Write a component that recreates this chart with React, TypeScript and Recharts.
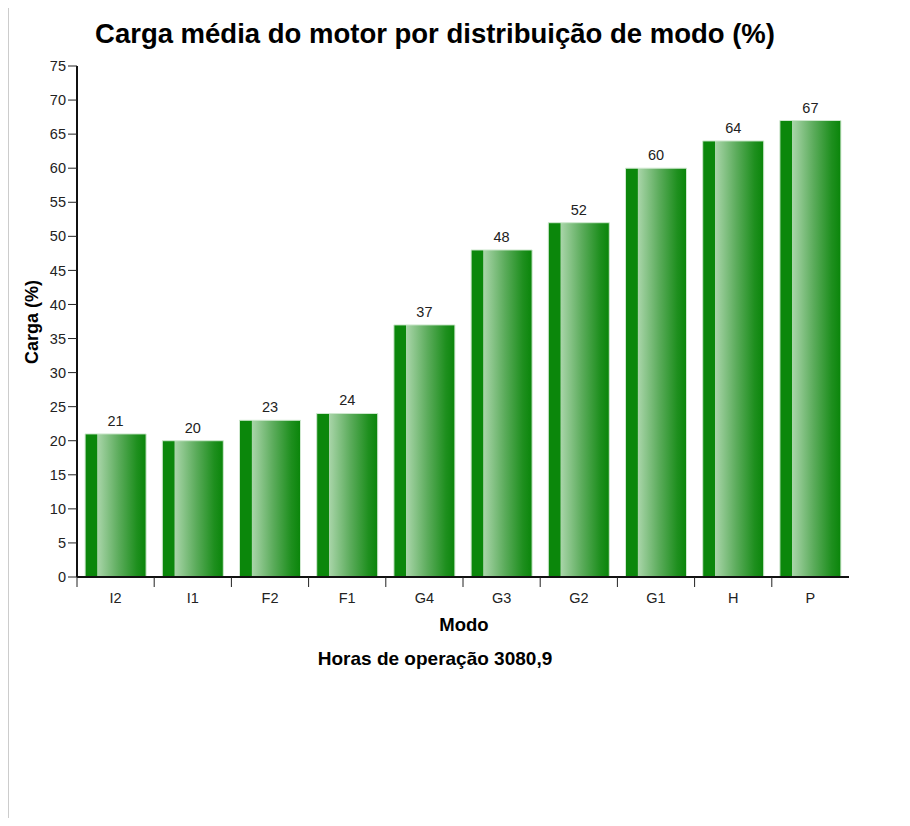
import React from 'react';
import { BarChart, Bar, XAxis, YAxis, LabelList } from 'recharts';

const modes = ['I2', 'I1', 'F2', 'F1', 'G4', 'G3', 'G2', 'G1', 'H', 'P'];
const loads = [21, 20, 23, 24, 37, 48, 52, 60, 64, 67];
const yTicks = [0, 5, 10, 15, 20, 25, 30, 35, 40, 45, 50, 55, 60, 65, 70, 75];

const FONT = '"Liberation Sans", Arial, Helvetica, sans-serif';
const CHART_W = 890;
const CHART_H = 800;
const MARGIN = { top: 58, right: 49, left: 29, bottom: 191 };
const Y_AXIS_W = 40;
const PLOT_W = CHART_W - MARGIN.left - MARGIN.right - Y_AXIS_W;

// Format data for the chart
const chartData = modes.map((mode, i) => ({ mode, load: loads[i] }));

// Tick marks sit on the category boundaries, labels in the middle
const ModeTick = (props: any) => {
  const { x, y, payload } = props;
  const band = PLOT_W / modes.length;
  return (
    <g>
      <line x1={x - band / 2} x2={x - band / 2} y1={y} y2={y + 10} stroke="#222" strokeWidth={1} />
      <text x={x} y={y + 26} textAnchor="middle" fontSize={14.5} fill="#222" fontFamily={FONT}>
        {payload.value}
      </text>
    </g>
  );
};

const App: React.FC = () => {
  return (
    <div style={{ position: 'relative', width: 894, height: 810, fontFamily: FONT }}>
      <div style={{ position: 'absolute', left: 0, top: -8, width: 1, height: 826, background: '#cccccc' }} />
      <BarChart width={CHART_W} height={CHART_H} data={chartData} margin={MARGIN} barCategoryGap="10.5%">
        <defs>
          <linearGradient id="barGreen" x1="0" y1="0" x2="1" y2="0">
            <stop offset="0%" stopColor="#0b870b" />
            <stop offset="19.5%" stopColor="#0b870b" />
            <stop offset="20.5%" stopColor="#a9d5a9" />
            <stop offset="55%" stopColor="#5cac5c" />
            <stop offset="85%" stopColor="#1e8f1e" />
            <stop offset="100%" stopColor="#0a850a" />
          </linearGradient>
        </defs>
        <XAxis
          dataKey="mode"
          height={40}
          tickLine={false}
          tickSize={0}
          tickMargin={0}
          axisLine={{ stroke: '#111', strokeWidth: 2 }}
          tick={<ModeTick />}
          interval={0}
        />
        <YAxis
          width={Y_AXIS_W}
          domain={[0, 75]}
          ticks={yTicks}
          interval={0}
          tickSize={9}
          tickMargin={2}
          axisLine={{ stroke: '#111', strokeWidth: 2 }}
          tickLine={{ stroke: '#222' }}
          tick={{ fill: '#222', fontSize: 14.5, fontFamily: FONT }}
        />
        <Bar dataKey="load" fill="url(#barGreen)" stroke="#cfe8cf" strokeWidth={1} isAnimationActive={false}>
          <LabelList dataKey="load" position="top" offset={8} fill="#222" fontSize={14.5} fontFamily={FONT} />
        </Bar>
      </BarChart>
      <svg
        width={894}
        height={810}
        style={{ position: 'absolute', left: 0, top: 0, pointerEvents: 'none' }}
      >
        <text x={427} y={35} textAnchor="middle" fontSize={27.5} fontWeight="bold" fill="#000" fontFamily={FONT}>
          Carga média do motor por distribuição de modo (%)
        </text>
        <text
          x={24}
          y={314}
          textAnchor="middle"
          dominantBaseline="central"
          fontSize={18}
          fontWeight="bold"
          fill="#000"
          fontFamily={FONT}
          transform="rotate(-90 24 314)"
        >
          Carga (%)
        </text>
        <text x={456} y={623} textAnchor="middle" fontSize={18.5} fontWeight="bold" fill="#000" fontFamily={FONT}>
          Modo
        </text>
        <text x={427} y={657} textAnchor="middle" fontSize={19} fontWeight="bold" fill="#000" fontFamily={FONT}>
          Horas de operação 3080,9
        </text>
      </svg>
    </div>
  );
};

export default App;
